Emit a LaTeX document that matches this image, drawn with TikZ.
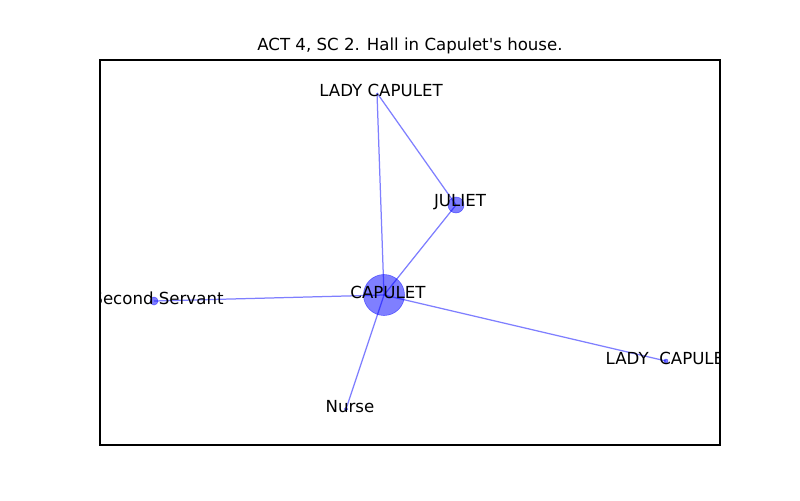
\documentclass[tikz,border=0pt]{standalone}
\usepackage{fontspec}
\setmainfont{DejaVu Sans}[Ligatures=TeXOff]

\begin{document}
\begin{tikzpicture}[
  x=0.01in, y=-0.01in,
  every node/.style={inner sep=1pt},
  vtx/.style={circle, draw=blue, fill=blue, draw opacity=0.5, fill opacity=0.5, inner sep=0pt},
  edge/.style={draw=blue, draw opacity=0.5, line width=0.9pt},
  lbl/.style={font=\fontsize{12}{14}\selectfont, inner sep=0pt, xshift=2.9pt, yshift=1.8pt},
  frame/.style={draw=black, line width=0.8pt}]
  \useasboundingbox (0,0) rectangle (800,500);

  % positions
  \coordinate (lc)  at (377,93);
  \coordinate (jul) at (456,205);
  \coordinate (cap) at (384,295);
  \coordinate (ss)  at (154,301);
  \coordinate (lc2) at (666,361);
  \coordinate (nur) at (346,409);

  % edges
  \draw[edge] (lc)  -- (cap);
  \draw[edge] (lc)  -- (jul);
  \draw[edge] (jul) -- (cap);
  \draw[edge] (cap) -- (ss);
  \draw[edge] (cap) -- (lc2);
  \draw[edge] (cap) -- (nur);

  % vertices
  \node[vtx, minimum size=0.41in]  (capn) at (cap) {};
  \node[vtx, minimum size=0.16in]  (juln) at (jul) {};
  \node[vtx, minimum size=0.08in]  (ssn)  at (ss)  {};
  \node[vtx, minimum size=0.04in]  (lc2n) at (lc2) {};
  \node[vtx, minimum size=0.035in] (nurn) at (nur) {};

  % labels, clipped to the axes
  \begin{scope}
    \clip (100,60) rectangle (720,445);
    \node[lbl] at (lc)  {LADY CAPULET};
    \node[lbl] at (jul) {JULIET};
    \node[lbl] at (cap) {CAPULET};
    \node[lbl] at (ss)  {Second Servant};
    \node[lbl] at (lc2) {LADY\ \ CAPULET};
    \node[lbl] at (nur) {Nurse};
  \end{scope}

  % axes and title
  \draw[frame] (100,60) rectangle (720,445);
  \node[font=\fontsize{12}{14}\selectfont] (title) at (410,46) {ACT 4, SC 2. Hall in Capulet's house.};
\end{tikzpicture}
\end{document}
